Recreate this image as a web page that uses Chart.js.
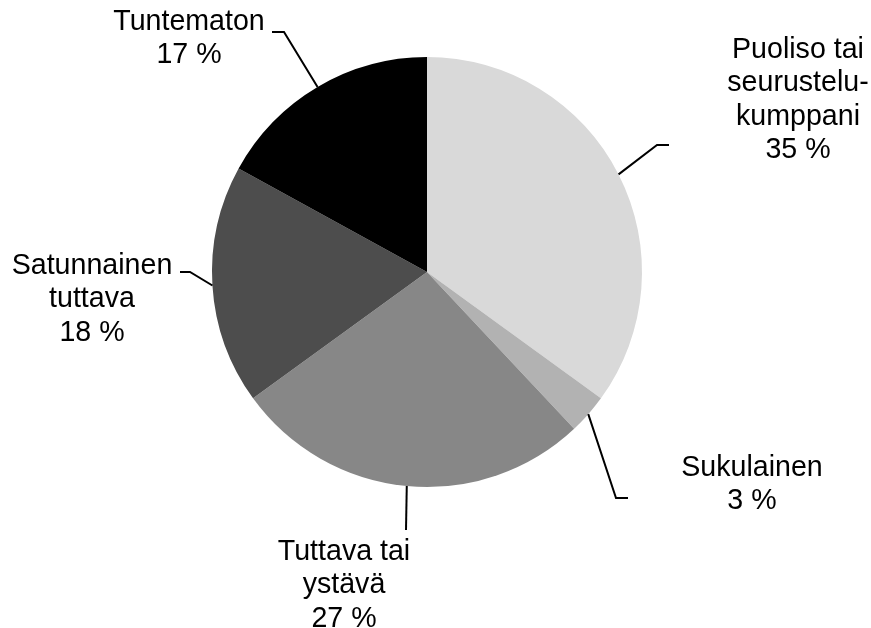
<!DOCTYPE html>
<html>
<head>
<meta charset="utf-8">
<script src="https://cdn.jsdelivr.net/npm/chart.js@4/dist/chart.umd.min.js"></script>
<style>
html,body{margin:0;padding:0;background:#fff;}
#wrap{width:871px;height:628px;position:relative;}
</style>
</head>
<body>
<div id="wrap"><canvas id="c" width="871" height="628"></canvas></div>
<script>
// Data
const categories = [
  ["Puoliso tai", "seurustelu-", "kumppani"],
  ["Sukulainen"],
  ["Tuttava tai", "ystävä"],
  ["Satunnainen", "tuttava"],
  ["Tuntematon"]
];
const values = [35, 3, 27, 18, 17];

// Styles
const colors = ["#d9d9d9", "#b2b2b2", "#878787", "#4d4d4d", "#000000"];

// Label placement (offsets from pie centre): elbow, end of leader, text centre x, first-line centre y
const labelLayout = [
  {elbow:[230,-127], end:[242,-127], tx:371, ty:-222},
  {elbow:[189,226],  end:[201,226],  tx:325, ty:196},
  {elbow:[-21,258],  end:[-21,258],  tx:-83, ty:280},
  {elbow:[-237,0],   end:[-247,0],   tx:-335, ty:-6},
  {elbow:[-143,-240],end:[-155,-240],tx:-238, ty:-250}
];
const FONT = '28.6px "Liberation Sans", Arial, sans-serif';
const LINE_H = 33.5;

const labelPlugin = {
  id: 'leaderLabels',
  afterDatasetsDraw(chart) {
    const ctx = chart.ctx;
    const meta = chart.getDatasetMeta(0);
    ctx.save();
    meta.data.forEach((arc, i) => {
      const p = arc.getProps(['x','y','startAngle','endAngle','outerRadius'], true);
      const mid = (p.startAngle + p.endAngle) / 2;
      const sx = p.x + Math.cos(mid) * p.outerRadius;
      const sy = p.y + Math.sin(mid) * p.outerRadius;
      const L = labelLayout[i];
      ctx.strokeStyle = '#000';
      ctx.lineWidth = 2;
      ctx.beginPath();
      ctx.moveTo(sx, sy);
      ctx.lineTo(p.x + L.elbow[0], p.y + L.elbow[1]);
      ctx.lineTo(p.x + L.end[0], p.y + L.end[1]);
      ctx.stroke();
      const lines = categories[i].concat([values[i] + ' %']);
      ctx.fillStyle = '#000';
      ctx.font = FONT;
      ctx.textAlign = 'center';
      ctx.textBaseline = 'middle';
      lines.forEach((t, k) => {
        ctx.fillText(t, p.x + L.tx, p.y + L.ty + k * LINE_H);
      });
    });
    ctx.restore();
  }
};

new Chart(document.getElementById('c'), {
  type: 'pie',
  data: {
    labels: categories.map(c => c.join(' ')),
    datasets: [{
      data: values,
      backgroundColor: colors,
      borderWidth: 0
    }]
  },
  options: {
    responsive: false,
    animation: false,
    layout: { padding: { left: 212, right: 229, top: 57, bottom: 141 } },
    plugins: { legend: { display: false }, tooltip: { enabled: false } }
  },
  plugins: [labelPlugin]
});
</script>
</body>
</html>
